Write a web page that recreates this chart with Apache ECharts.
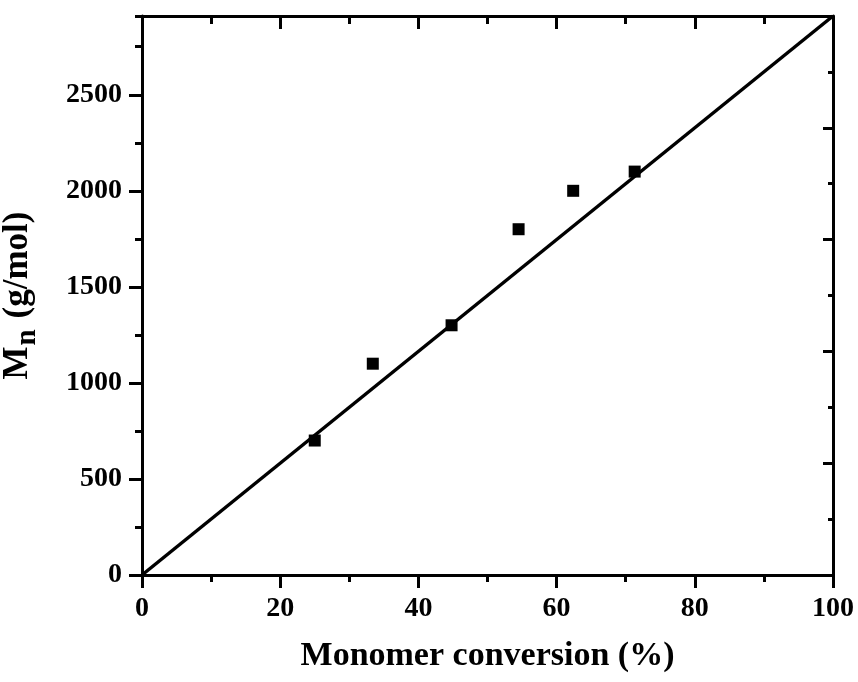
<!DOCTYPE html>
<html>
<head>
<meta charset="utf-8">
<script src="https://cdn.jsdelivr.net/npm/echarts@6/dist/echarts.min.js"></script>
<style>
html,body{margin:0;padding:0;background:#fff;}
#chart{width:858px;height:682px;}
</style>
</head>
<body>
<div id="chart"></div>
<script>
// Data
const conversion = [25.0, 33.4, 44.8, 54.5, 62.4, 71.3];
const mn = [700, 1100, 1300, 1800, 2000, 2100];
const fitX = [0, 100];
const fitY = [0, 2910];
const xTitle = 'Monomer conversion (%)';

const FONT = '"Liberation Serif", "Times New Roman", serif';
const black = '#000';

const chart = echarts.init(document.getElementById('chart'), null, {renderer: 'canvas'});

function baseAxis(extra) {
  return Object.assign({
    type: 'value',
    splitLine: {show: false},
    axisLine: {show: false, onZero: false, lineStyle: {color: black, width: 3}},
    axisTick: {show: true, lineStyle: {color: black, width: 3}},
    axisLabel: {show: false},
    axisPointer: {show: false}
  }, extra);
}

const labelStyle = {show: true, color: black, fontFamily: FONT, fontWeight: 'bold', fontSize: 28};

const option = {
  backgroundColor: '#fff',
  animation: false,
  grid: {left: 142, right: 25, top: 16, bottom: 107, containLabel: false, outerBoundsMode: 'none'},
  xAxis: [
    baseAxis({position: 'bottom', min: 0, max: 100, interval: 20,
      axisLine: {show: true, onZero: false, lineStyle: {color: black, width: 3}},
      axisTick: {show: true, inside: false, length: 13, lineStyle: {color: black, width: 3}},
      axisLabel: Object.assign({}, labelStyle, {margin: 20}),
      name: xTitle, nameLocation: 'middle', nameGap: 64,
      nameTextStyle: {color: black, fontFamily: FONT, fontWeight: 'bold', fontSize: 34}
    }),
    baseAxis({position: 'bottom', min: 0, max: 100, interval: 10,
      axisTick: {show: true, inside: false, length: 7, lineStyle: {color: black, width: 3}}}),
    baseAxis({position: 'top', min: 0, max: 100, interval: 20,
      axisLine: {show: true, onZero: false, lineStyle: {color: black, width: 3}},
      axisTick: {show: true, inside: true, length: 13, lineStyle: {color: black, width: 3}}}),
    baseAxis({position: 'top', min: 0, max: 100, interval: 10,
      axisTick: {show: true, inside: true, length: 8, lineStyle: {color: black, width: 3}}})
  ],
  yAxis: [
    baseAxis({position: 'left', min: 0, max: 2910, interval: 500,
      axisLine: {show: true, onZero: false, lineStyle: {color: black, width: 3}},
      axisTick: {show: true, inside: false, length: 13, lineStyle: {color: black, width: 3}},
      axisLabel: Object.assign({}, labelStyle, {margin: 20, showMaxLabel: false,
        formatter: function (v) { return v % 500 === 0 ? String(v) : ''; }}),
      name: '{a|M}{b|n}{a| (g/mol)}', nameLocation: 'middle', nameGap: 100, nameRotate: 90,
      nameTextStyle: {
        color: black, fontFamily: FONT, fontWeight: 'bold', fontSize: 35,
        rich: {
          a: {color: black, fontFamily: FONT, fontWeight: 'bold', fontSize: 35, verticalAlign: 'bottom', padding: [0, 0, 7, 0]},
          b: {color: black, fontFamily: FONT, fontWeight: 'bold', fontSize: 29, verticalAlign: 'bottom', padding: [0, 2, 0, 1]}
        }
      }
    }),
    baseAxis({position: 'left', min: 0, max: 2910, interval: 250,
      axisTick: {show: true, inside: false, length: 7, lineStyle: {color: black, width: 3}}}),
    baseAxis({position: 'right', min: 0, max: 2500, interval: 500,
      axisLine: {show: true, onZero: false, lineStyle: {color: black, width: 3}},
      axisTick: {show: true, inside: true, length: 10, lineStyle: {color: black, width: 3}}}),
    baseAxis({position: 'right', min: 0, max: 2500, interval: 250,
      axisTick: {show: true, inside: true, length: 5, lineStyle: {color: black, width: 3}}})
  ],
  series: [
    {
      type: 'line', xAxisIndex: 0, yAxisIndex: 0,
      data: fitX.map((x, i) => [x, fitY[i]]),
      showSymbol: false, symbol: 'none',
      lineStyle: {color: black, width: 3.5},
      z: 2
    },
    {
      type: 'scatter', xAxisIndex: 0, yAxisIndex: 0,
      data: conversion.map((x, i) => [x, mn[i]]),
      symbol: 'rect', symbolSize: 12,
      itemStyle: {color: black, opacity: 1},
      z: 3
    }
  ]
};
chart.setOption(option);
</script>
</body>
</html>
